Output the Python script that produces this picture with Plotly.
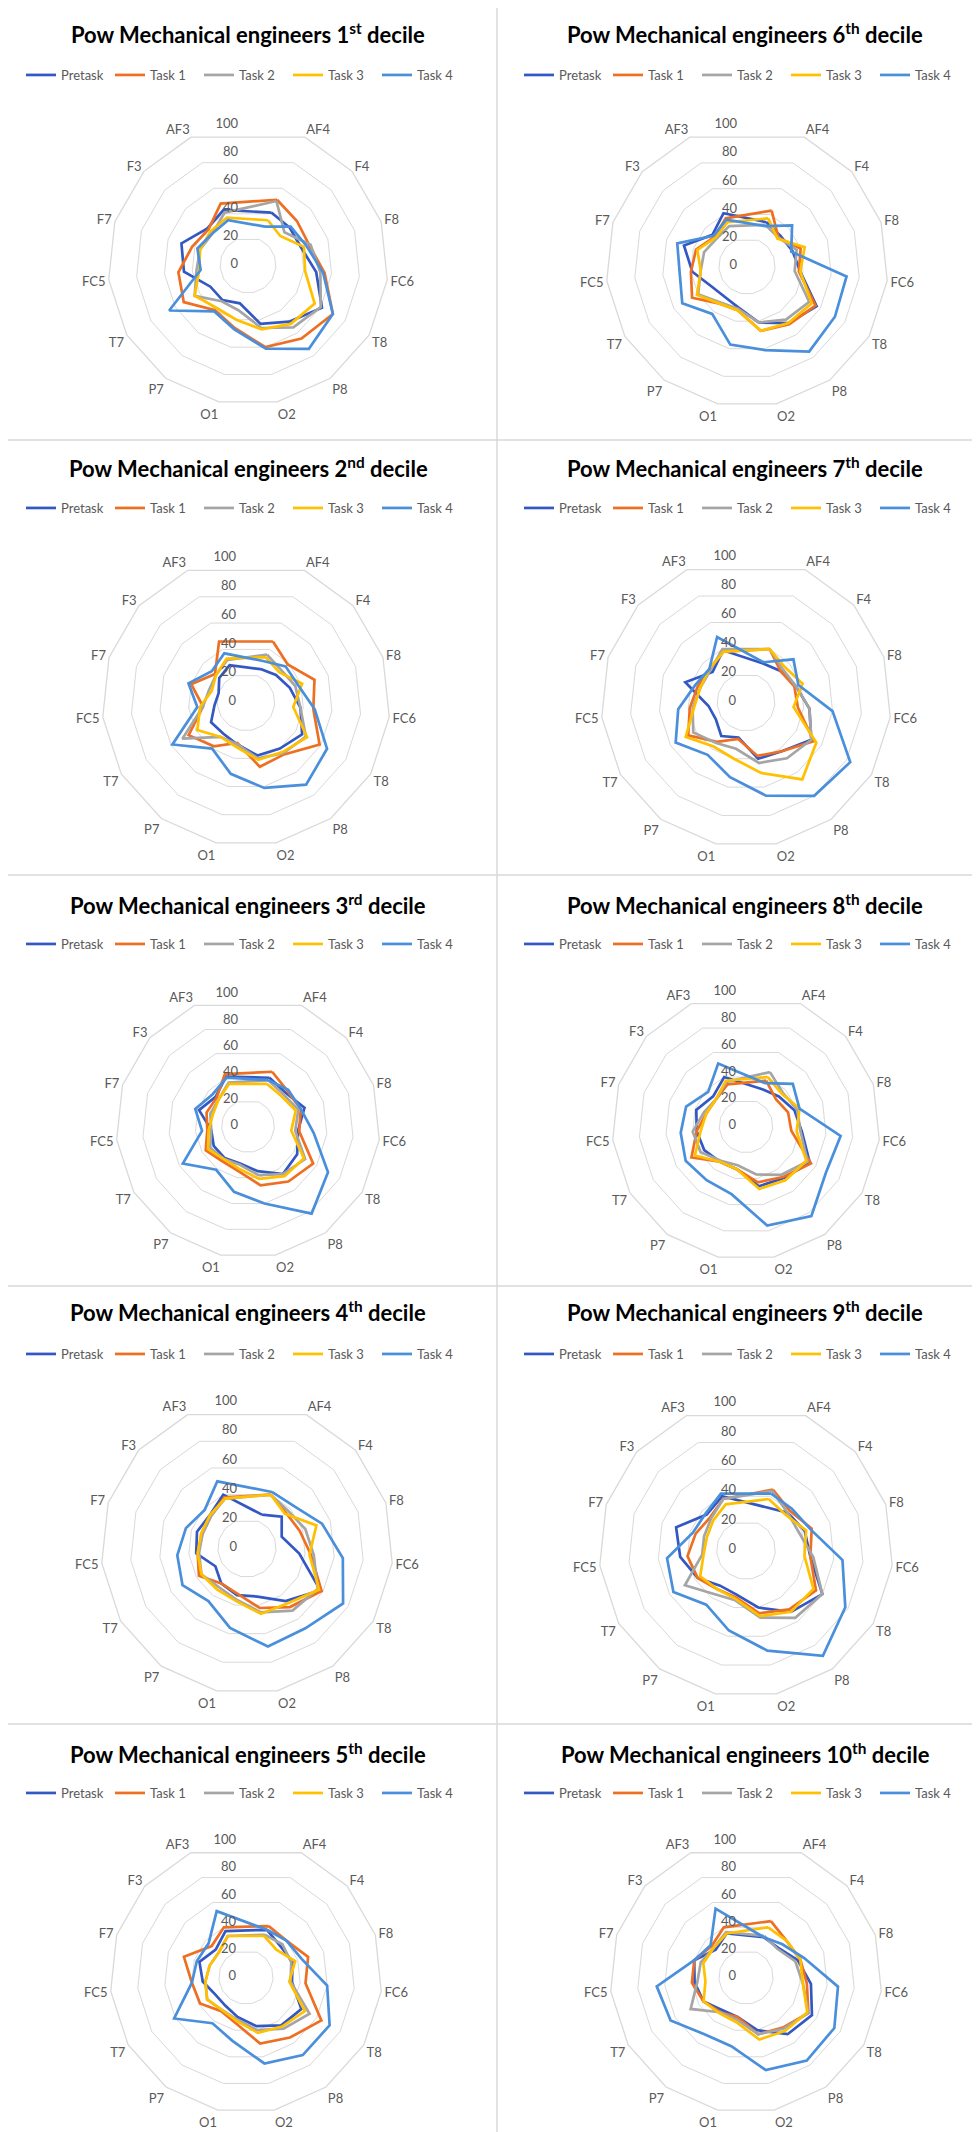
import plotly.graph_objects as go

# ---------------- data ----------------
categories = [" ", "AF4", "F4", "F8", "FC6", "T8", "P8", "O2", "O1", "P7", "T7", "FC5", "F7", "F3", "AF3"]
series_names = ["Pretask", "Task 1", "Task 2", "Task 3", "Task 4"]
radial_ticks = [0, 20, 40, 60, 80, 100]

# values per electrode, in order AF4 ... AF3 (clockwise from top)
d1_pretask = [41, 40, 40, 49, 61, 50, 43, 28, 31, 31, 46, 50, 39, 43]
d1_task1 = [51, 47, 46, 55, 70, 65, 60, 46, 40, 53, 50, 42, 38, 48]
d1_task2 = [50, 35, 47, 52, 60, 55, 46, 33, 32, 44, 37, 36, 34, 41]
d1_task3 = [35, 31, 42, 41, 55, 52, 47, 40, 38, 44, 35, 36, 36, 37]
d1_task4 = [30, 41, 44, 54, 70, 74, 61, 47, 41, 65, 34, 38, 34, 35]

d2_pretask = [25, 28, 32, 38, 45, 40, 38, 30, 27, 28, 22, 20, 25, 28]
d2_task1 = [46, 39, 50, 47, 59, 45, 46, 29, 38, 46, 30, 40, 29, 46]
d2_task2 = [36, 33, 36, 38, 48, 44, 40, 30, 30, 51, 30, 27, 28, 32]
d2_task3 = [34, 31, 41, 33, 49, 43, 41, 32, 30, 39, 32, 25, 28, 33]
d2_task4 = [31, 37, 38, 48, 65, 71, 61, 51, 40, 59, 34, 42, 32, 37]

d3_pretask = [40, 38, 45, 38, 43, 45, 35, 29, 30, 30, 28, 39, 33, 41]
d3_task1 = [45, 40, 42, 39, 57, 52, 46, 35, 33, 37, 31, 33, 32, 43]
d3_task2 = [38, 36, 40, 36, 50, 45, 38, 30, 31, 33, 28, 30, 30, 36]
d3_task3 = [35, 34, 38, 33, 49, 47, 41, 33, 31, 35, 30, 28, 30, 35]
d3_task4 = [38, 41, 42, 50, 70, 82, 60, 51, 41, 57, 35, 42, 36, 40]

d4_pretask = [25, 32, 25, 36, 58, 45, 34, 33, 30, 25, 35, 36, 34, 40]
d4_task1 = [40, 36, 38, 44, 59, 50, 42, 32, 30, 38, 34, 32, 33, 38]
d4_task2 = [40, 38, 42, 46, 56, 53, 45, 36, 33, 36, 33, 32, 33, 37]
d4_task3 = [40, 35, 50, 43, 57, 47, 46, 37, 35, 36, 34, 33, 34, 37]
d4_task4 = [42, 43, 54, 66, 76, 68, 69, 56, 45, 51, 48, 44, 39, 50]

d5_pretask = [38, 34, 36, 34, 47, 44, 37, 30, 26, 26, 32, 36, 30, 37]
d5_task1 = [41, 40, 48, 44, 64, 55, 50, 35, 31, 39, 40, 48, 34, 40]
d5_task2 = [34, 36, 35, 33, 54, 47, 40, 32, 30, 33, 30, 28, 27, 33]
d5_task3 = [33, 30, 38, 32, 50, 45, 42, 33, 30, 33, 30, 28, 27, 33]
d5_task4 = [38, 40, 43, 60, 71, 71, 65, 48, 42, 61, 40, 38, 37, 53]

d6_pretask = [34, 32, 34, 38, 57, 50, 41, 30, 27, 29, 39, 47, 33, 41]
d6_task1 = [43, 30, 40, 37, 56, 51, 47, 32, 33, 45, 40, 38, 31, 37]
d6_task2 = [32, 30, 37, 34, 51, 47, 41, 31, 32, 40, 33, 32, 29, 31]
d6_task3 = [37, 29, 43, 38, 53, 50, 47, 32, 33, 41, 33, 37, 30, 34]
d6_task4 = [31, 43, 33, 71, 72, 75, 61, 57, 42, 53, 48, 52, 32, 36]

d7_pretask = [29, 32, 36, 44, 52, 42, 40, 25, 29, 24, 26, 44, 31, 39]
d7_task1 = [40, 32, 35, 36, 54, 42, 38, 26, 34, 46, 39, 35, 34, 38]
d7_task2 = [40, 34, 36, 44, 52, 48, 43, 33, 35, 42, 37, 33, 33, 40]
d7_task3 = [40, 36, 41, 33, 56, 66, 50, 40, 38, 48, 36, 33, 34, 38]
d7_task4 = [30, 44, 38, 60, 83, 80, 66, 53, 45, 56, 47, 37, 34, 49]

d8_pretask = [30, 33, 38, 42, 55, 48, 46, 33, 33, 36, 37, 39, 33, 40]
d8_task1 = [37, 30, 33, 34, 56, 47, 43, 33, 33, 47, 37, 31, 30, 34]
d8_task2 = [44, 37, 40, 41, 53, 45, 37, 30, 32, 39, 40, 33, 30, 36]
d8_task3 = [40, 36, 42, 38, 52, 50, 48, 33, 33, 44, 34, 31, 30, 37]
d8_task4 = [35, 47, 42, 71, 69, 83, 76, 52, 50, 52, 49, 47, 38, 51]

d9_pretask = [32, 38, 42, 44, 60, 52, 40, 31, 30, 38, 45, 50, 36, 40]
d9_task1 = [45, 40, 47, 44, 55, 50, 44, 33, 33, 38, 40, 36, 33, 38]
d9_task2 = [44, 38, 38, 46, 60, 57, 47, 35, 37, 48, 30, 30, 32, 38]
d9_task3 = [38, 36, 43, 40, 53, 52, 46, 34, 33, 36, 29, 28, 30, 34]
d9_task4 = [42, 42, 46, 66, 78, 89, 70, 56, 46, 57, 54, 38, 37, 42]

d10_pretask = [32, 32, 40, 48, 56, 52, 40, 30, 30, 36, 38, 40, 30, 35]
d10_task1 = [45, 40, 42, 45, 53, 46, 43, 30, 32, 36, 40, 40, 34, 40]
d10_task2 = [33, 31, 38, 42, 53, 47, 43, 32, 32, 47, 36, 35, 32, 36]
d10_task3 = [40, 40, 42, 42, 52, 49, 47, 34, 33, 36, 30, 33, 32, 35]
d10_task4 = [32, 36, 45, 68, 75, 76, 70, 52, 52, 64, 66, 40, 35, 55]

decile_labels = ["1", "2", "3", "4", "5", "6", "7", "8", "9", "10"]
decile_suffix = ["st", "nd", "rd", "th", "th", "th", "th", "th", "th", "th"]

# ---------------- layout / style ----------------
W, H = 980, 2132
colors = ["#3358C4", "#EE6F22", "#A5A5A5", "#FFC000", "#4A8FDB"]
FONT = "Lato"

decile_series = {
    1: [d1_pretask, d1_task1, d1_task2, d1_task3, d1_task4],
    2: [d2_pretask, d2_task1, d2_task2, d2_task3, d2_task4],
    3: [d3_pretask, d3_task1, d3_task2, d3_task3, d3_task4],
    4: [d4_pretask, d4_task1, d4_task2, d4_task3, d4_task4],
    5: [d5_pretask, d5_task1, d5_task2, d5_task3, d5_task4],
    6: [d6_pretask, d6_task1, d6_task2, d6_task3, d6_task4],
    7: [d7_pretask, d7_task1, d7_task2, d7_task3, d7_task4],
    8: [d8_pretask, d8_task1, d8_task2, d8_task3, d8_task4],
    9: [d9_pretask, d9_task1, d9_task2, d9_task3, d9_task4],
    10: [d10_pretask, d10_task1, d10_task2, d10_task3, d10_task4],
}

# decile -> (polar cx, cy, R, title x, title y, legend left x, legend y) in pixels
geom = {
    1: (240, 257, 140, 240, 25, 13, 67),
    6: (739, 258, 141, 737, 25, 511, 67),
    2: (238, 694, 144, 240, 459, 13, 500),
    7: (738, 694, 145, 737, 459, 511, 500),
    3: (240, 1118, 132, 240, 896, 13, 936),
    8: (738, 1118, 134, 737, 896, 511, 936),
    4: (239, 1540, 146, 240, 1303, 13, 1346),
    9: (738, 1542, 147, 737, 1303, 511, 1346),
    5: (238, 1969, 136, 240, 1745, 13, 1785),
    10: (738, 1969, 136, 737, 1745, 511, 1785),
}

fig = go.Figure()
layout_extra = {}
annotations = []
tick_text = [f"{v}\u00a0\u00a0\u00a0" for v in radial_ticks]

for idx, dec in enumerate(range(1, 11)):
    cx, cy, R, tx, ty, lx, ly = geom[dec]
    pkey = "polar" if idx == 0 else f"polar{idx + 1}"
    lkey = "legend" if idx == 0 else f"legend{idx + 1}"
    okey = f"polar{idx + 11}"  # overlay polar carrying the radial value labels
    dom = dict(x=[(cx - R) / W, (cx + R) / W], y=[1 - (cy + R) / H, 1 - (cy - R) / H])

    # invisible trace registering all categories (incl. the blank top one)
    fig.add_trace(go.Scatterpolar(
        r=[1] * len(categories), theta=categories, mode="lines",
        line=dict(width=0, color="rgba(0,0,0,0)"), showlegend=False,
        hoverinfo="skip", subplot=pkey))

    for sname, vals, col in zip(series_names, decile_series[dec], colors):
        theta = categories[1:] + [categories[1]]
        rr = list(vals) + [vals[0]]
        fig.add_trace(go.Scatterpolar(
            r=rr, theta=theta, mode="lines", name=sname,
            line=dict(color=col, width=2.7), subplot=pkey, legend=lkey))

    # radial value labels (0..100) along the top axis
    fig.add_trace(go.Scatterpolar(
        r=radial_ticks, theta=[0] * len(radial_ticks), mode="text",
        text=tick_text, textposition="middle left",
        textfont=dict(family=FONT, size=13, color="#595959"),
        showlegend=False, hoverinfo="skip", subplot=okey, cliponaxis=False))

    layout_extra[pkey] = dict(
        domain=dom,
        bgcolor="white",
        gridshape="linear",
        angularaxis=dict(type="category", categoryorder="array", categoryarray=categories,
                         tickvals=categories[1:],
                         rotation=90, direction="clockwise", showgrid=False,
                         showline=True, linecolor="#D9D9D9", linewidth=1.3,
                         ticks="", tickfont=dict(family=FONT, size=13, color="#595959")),
        radialaxis=dict(range=[0, 100], tickvals=radial_ticks, angle=90,
                        showticklabels=False,
                        showline=False, ticks="", gridcolor="#D9D9D9", gridwidth=1.3),
    )
    layout_extra[okey] = dict(
        domain=dom,
        bgcolor="rgba(0,0,0,0)",
        angularaxis=dict(type="linear", rotation=90, direction="clockwise",
                         showgrid=False, showline=False, showticklabels=False, ticks=""),
        radialaxis=dict(range=[0, 100], showgrid=False, showline=False,
                        showticklabels=False, ticks=""),
    )
    layout_extra[lkey] = dict(
        orientation="h", x=lx / W, xanchor="left", y=1 - ly / H, yanchor="middle",
        font=dict(family=FONT, size=13, color="#595959"), bgcolor="rgba(0,0,0,0)",
        entrywidth=44, itemwidth=30, tracegroupgap=0)

    annotations.append(dict(
        text=f"<b>Pow Mechanical engineers {decile_labels[dec - 1]}<sup>{decile_suffix[dec - 1]}</sup> decile</b>",
        x=tx / W, y=1 - ty / H, xref="paper", yref="paper", xanchor="center", yanchor="middle",
        showarrow=False, font=dict(family=FONT, size=22, color="black")))

shapes = [dict(type="line", xref="paper", yref="paper", x0=489 / W, x1=489 / W, y0=0, y1=1,
               line=dict(color="#D9D9D9", width=1.5))]
for yy in [432, 867, 1278, 1716]:
    shapes.append(dict(type="line", xref="paper", yref="paper", x0=0, x1=1,
                       y0=1 - yy / H, y1=1 - yy / H, line=dict(color="#D9D9D9", width=1.5)))

fig.update_layout(
    width=W, height=H, margin=dict(l=0, r=0, t=0, b=0),
    paper_bgcolor="white", plot_bgcolor="white",
    annotations=annotations, shapes=shapes, hovermode=False,
    **layout_extra)

fig.write_html("out.html")
